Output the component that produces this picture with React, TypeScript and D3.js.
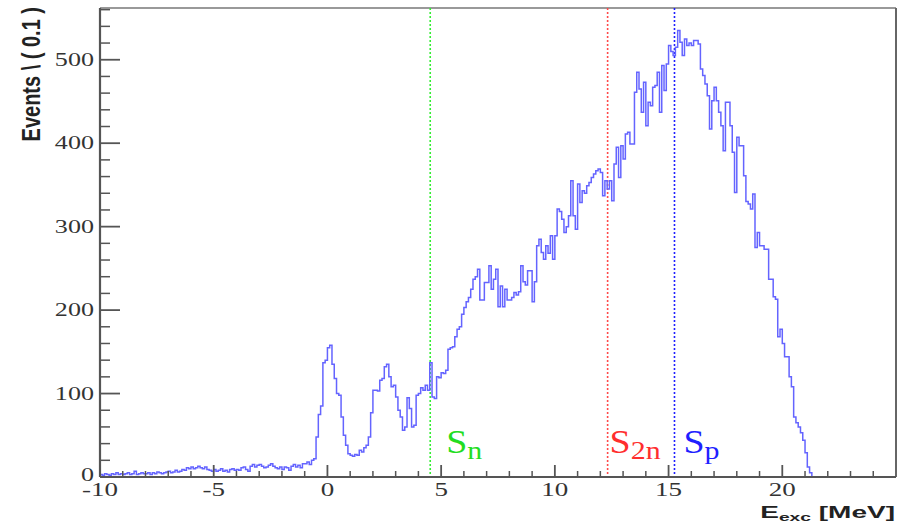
import React from "react";
import * as d3 from "d3";

// ---- data (bin width 0.1 MeV, first bin starts at -10 MeV) ----
const binStart = -10;
const binWidth = 0.1;
const countsTail = [
  3, 2, 4, 3, 2, 4, 3, 5, 3, 4,
  3, 4, 5, 3, 4, 7, 3, 4, 5, 4,
  4, 5, 3, 5, 4, 6, 5, 4, 5, 6,
  7, 5, 6, 8, 6, 7, 9, 8, 11, 10,
  12, 10, 11, 13, 11, 10, 12, 9, 8, 7,
  9, 7, 8, 10, 7, 8, 6, 9, 10, 8,
  9, 8, 11, 12, 9, 7, 13, 15, 12, 14,
  15, 13, 11, 12, 14, 16, 13, 11, 10, 12,
  9, 12, 11, 8, 13, 15, 12, 14, 11, 16,
];
const countsLowPeaks = [
  16, 18, 15, 20, 22, 48, 75, 85, 137, 140,
  155, 158, 135, 118, 100, 98, 72, 50, 38, 28,
  26, 25, 27, 26, 32, 30, 35, 38, 48, 77,
  104, 104, 103, 116, 118, 132, 135, 120, 108, 110,
  96, 80, 72, 56, 60, 95, 82, 60, 62, 98,
  100, 107, 104, 110, 104, 137, 96, 94, 120, 119,
];
const countsRise = [
  125, 124, 128, 153, 155, 156, 168, 177, 180, 195,
  203, 210, 215, 225, 237, 240, 249, 212, 212, 233,
  233, 253, 225, 237, 249, 204, 229, 204, 225, 212,
  212, 215, 221, 218, 222, 253, 234, 230, 247, 247,
  210, 234, 277, 285, 269, 261, 277, 268, 289, 261,
  289, 321, 318, 309, 293, 300, 313, 355, 313, 297,
  351, 329, 343, 340, 349, 353, 359, 363, 367, 369,
  365, 337, 355, 345, 355, 331, 375, 395, 359, 397,
  381, 411, 413, 399, 399, 461, 485, 465, 437, 473,
  421, 449, 445, 467, 469, 485, 437, 493, 463, 495,
];
const countsFall = [
  517, 510, 505, 515, 535, 521, 505, 525, 517, 520,
  517, 523, 523, 519, 489, 481, 471, 457, 417, 451,
  467, 451, 437, 421, 391, 449, 449, 421, 389, 341,
  407, 397, 397, 361, 330, 327, 321, 339, 275, 293,
  277, 277, 273, 273, 237, 237, 216, 213, 168, 177,
  160, 144, 144, 120, 108, 72, 65, 60, 53, 44,
  29, 12, 5,
];
const counts = [...countsTail, ...countsLowPeaks, ...countsRise, ...countsFall];

const xTicksMajor = [-10, -5, 0, 5, 10, 15, 20];
const yTicksMajor = [0, 100, 200, 300, 400, 500];

const thresholds = [
  { name: "S", sub: "n", energy: 4.52, color: "#22dd22", lineColor: "#33ee33", dx: 16 },
  { name: "S", sub: "2n", energy: 12.32, color: "#ff2e2e", lineColor: "#ff4a4a", dx: 2 },
  { name: "S", sub: "p", energy: 15.26, color: "#1f1fff", lineColor: "#1f1fff", dx: 9 },
];

const xTitleMain = "E";
const xTitleSub = "exc";
const xTitleUnit = " [MeV]";
const yTitle = "Events \\ ( 0.1 )";

export default function App() {
  const W = 903;
  const H = 526;
  const left = 100;
  const right = 896;
  const top = 8;
  const bottom = 477;

  const x = d3.scaleLinear().domain([-10, 25]).range([left, right]);
  const y = d3.scaleLinear().domain([0, 562]).range([bottom, top]);

  const pts: [number, number][] = [[binStart, 0]];
  counts.forEach((c, i) => pts.push([binStart + i * binWidth, c]));
  const endEdge = binStart + counts.length * binWidth;
  pts.push([endEdge, 0]);
  pts.push([25, 0]);
  const line = d3
    .line<[number, number]>()
    .x((d) => x(d[0]))
    .y((d) => y(d[1]))
    .curve(d3.curveStepAfter);
  const pathD = line(pts) || "";

  const xMinor = d3.range(-10, 25, 1).filter((v) => v % 5 !== 0);
  const yMinor = d3.range(0, 561, 20).filter((v) => v % 100 !== 0);

  const axisColor = "#555";
  const labelColor = "#333";

  return (
    <svg
      width={W}
      height={H}
      style={{ position: "absolute", left: 0, top: 0, background: "#fff" }}
    >
      <defs>
        <clipPath id="plotClip">
          <rect x={left} y={top} width={right - left} height={bottom - top + 1} />
        </clipPath>
      </defs>

      {/* frame */}
      <line x1={left} x2={right} y1={top} y2={top} stroke="#777" strokeWidth={1.5} />
      <line x1={right} x2={right} y1={top} y2={bottom} stroke="#666" strokeWidth={2} />

      {/* threshold lines */}
      {thresholds.map((t) => (
        <line
          key={t.sub}
          x1={x(t.energy)}
          x2={x(t.energy)}
          y1={top}
          y2={bottom}
          stroke={t.lineColor}
          strokeWidth={1.6}
          strokeDasharray="2,2"
        />
      ))}

      {/* histogram */}
      <path
        d={pathD}
        fill="none"
        stroke="#6464ff"
        strokeWidth={1.5}
        clipPath="url(#plotClip)"
      />

      {/* axes */}
      <line x1={left} x2={left} y1={top} y2={bottom} stroke={axisColor} strokeWidth={2.2} />
      <line x1={left} x2={right} y1={bottom} y2={bottom} stroke={axisColor} strokeWidth={2.2} />

      {xTicksMajor.map((v) => (
        <line key={"xM" + v} x1={x(v)} x2={x(v)} y1={bottom} y2={bottom - 12} stroke={axisColor} strokeWidth={1.8} />
      ))}
      {xMinor.map((v) => (
        <line key={"xm" + v} x1={x(v)} x2={x(v)} y1={bottom} y2={bottom - 6} stroke={axisColor} strokeWidth={1.5} />
      ))}
      {yTicksMajor.map((v) => (
        <line key={"yM" + v} x1={left} x2={left + 20} y1={y(v)} y2={y(v)} stroke={axisColor} strokeWidth={1.8} />
      ))}
      {yMinor.map((v) => (
        <line key={"ym" + v} x1={left} x2={left + 10} y1={y(v)} y2={y(v)} stroke={axisColor} strokeWidth={1.5} />
      ))}

      {/* tick labels */}
      {xTicksMajor.map((v) => (
        <text
          key={"xl" + v}
          transform={`translate(${x(v)},${496}) scale(1.5,1)`}
          textAnchor="middle"
          fontFamily="Liberation Serif, serif"
          fontSize={18}
          fill={labelColor}
        >
          {v}
        </text>
      ))}
      {yTicksMajor.map((v) => (
        <text
          key={"yl" + v}
          transform={`translate(${94},${y(v) + (v === 0 ? 4 : 6)}) scale(1.45,1)`}
          textAnchor="end"
          fontFamily="Liberation Serif, serif"
          fontSize={18}
          fill={labelColor}
        >
          {v}
        </text>
      ))}

      {/* threshold labels */}
      {thresholds.map((t) => (
        <text
          key={"tl" + t.sub}
          transform={`translate(${x(t.energy) + t.dx},${453}) scale(1.15,1)`}
          fontFamily="Liberation Serif, serif"
          fontSize={33}
          fill={t.color}
        >
          {t.name}
          <tspan fontSize={26} dy={6}>
            {t.sub}
          </tspan>
        </text>
      ))}

      {/* axis titles */}
      <text
        transform={`translate(${895},${518}) scale(1.75,1)`}
        textAnchor="end"
        fontFamily="Liberation Sans, Arial, sans-serif"
        fontWeight="bold"
        fontSize={16}
        fill="#222"
      >
        {xTitleMain}
        <tspan fontSize={11} dy={3}>
          {xTitleSub}
        </tspan>
        <tspan dy={-3}>{xTitleUnit}</tspan>
      </text>
      <text
        transform={`translate(${40},${7}) scale(1.25,1) rotate(-90)`}
        textAnchor="end"
        fontFamily="Liberation Sans, Arial, sans-serif"
        fontWeight="bold"
        fontSize={20}
        fill="#222"
      >
        {yTitle}
      </text>
    </svg>
  );
}
